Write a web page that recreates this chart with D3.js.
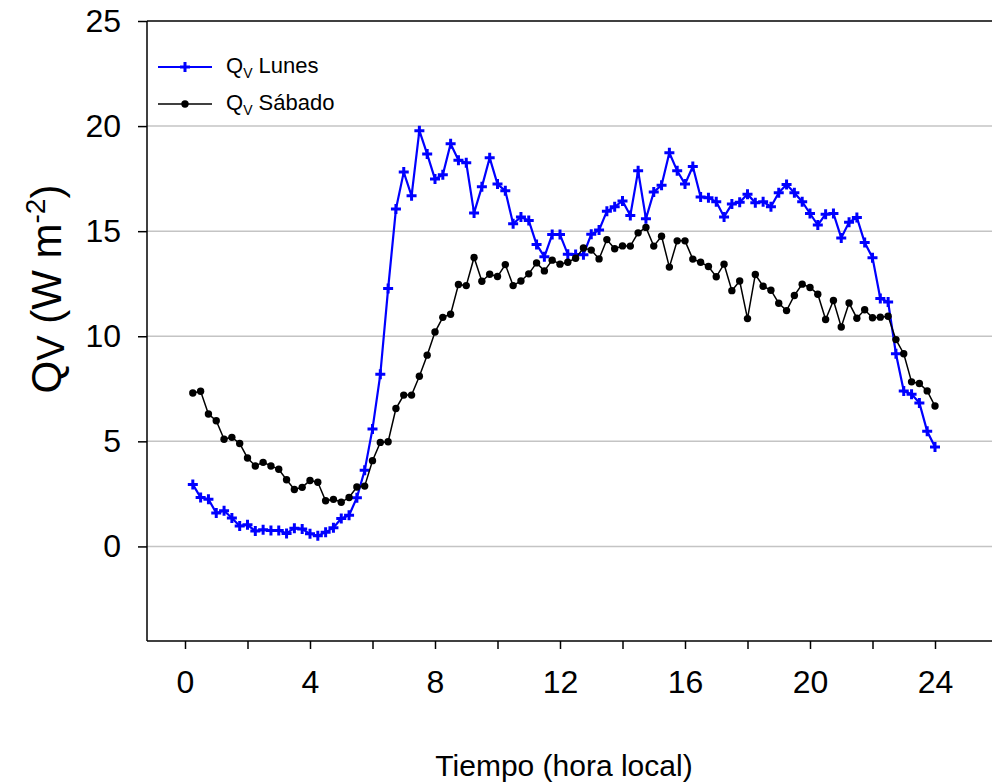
<!DOCTYPE html>
<html>
<head>
<meta charset="utf-8">
<script src="https://cdn.jsdelivr.net/npm/d3@7"></script>
<style>
  body { margin: 0; background: #fff; }
  svg { display: block; font-family: "Liberation Sans", Arial, sans-serif; }
</style>
</head>
<body>
<div id="chart"></div>
<script>
// sampling every 15 min (hora local)
const hours = d3.range(1, 97).map((i) => i / 4);

// Q_V Lunes
const lunes = [
  2.95, 2.33, 2.25, 1.59, 1.70, 1.35, 0.97, 1.03, 0.73, 0.79, 0.76, 0.76,
  0.62, 0.87, 0.83, 0.60, 0.51, 0.67, 0.89, 1.33, 1.48, 2.32, 3.62, 5.59,
  8.19, 12.27, 16.05, 17.81, 16.68, 19.78, 18.67, 17.48, 17.68, 19.16, 18.38, 18.25,
  15.87, 17.11, 18.49, 17.24, 16.92, 15.35, 15.68, 15.51, 14.37, 13.78, 14.84, 14.84,
  13.90, 13.89, 13.88, 14.85, 15.05, 15.95, 16.16, 16.44, 15.75, 17.87, 15.59, 16.86,
  17.19, 18.73, 17.87, 17.24, 18.08, 16.63, 16.59, 16.40, 15.68, 16.29, 16.38, 16.76,
  16.35, 16.40, 16.16, 16.83, 17.22, 16.83, 16.40, 15.84, 15.29, 15.81, 15.84, 14.68,
  15.42, 15.65, 14.46, 13.74, 11.80, 11.63, 9.17, 7.40, 7.24, 6.83, 5.48, 4.73
];

// Q_V Sábado
const sabado = [
  7.30, 7.38, 6.30, 5.98, 5.10, 5.19, 4.90, 4.21, 3.83, 4.00, 3.83, 3.67,
  3.17, 2.71, 2.81, 3.14, 3.05, 2.17, 2.24, 2.10, 2.33, 2.83, 2.87, 4.08,
  4.95, 4.98, 6.56, 7.20, 7.20, 8.10, 9.10, 10.20, 10.90, 11.05, 12.46, 12.41,
  13.75, 12.62, 12.95, 12.84, 13.41, 12.41, 12.63, 12.97, 13.49, 13.11, 13.62, 13.43,
  13.52, 13.71, 14.20, 14.10, 13.68, 14.60, 14.16, 14.30, 14.29, 14.92, 15.18, 14.29,
  14.76, 13.29, 14.54, 14.54, 13.67, 13.52, 13.32, 12.83, 13.43, 12.17, 12.63, 10.84,
  12.94, 12.38, 12.19, 11.57, 11.22, 11.94, 12.48, 12.32, 12.00, 10.80, 11.70, 10.44,
  11.58, 10.86, 11.26, 10.88, 10.91, 10.95, 9.84, 9.17, 7.83, 7.75, 7.40, 6.68
];

const xTicks = d3.range(0, 25, 2);
const xLabels = [0, 4, 8, 12, 16, 20, 24];
const yTicks = [0, 5, 10, 15, 20, 25];
const yGrid = [0, 5, 10, 15, 20];

const W = 992, H = 782;
const mLeft = 147, mRight = 992, mTop = 21, mBottom = 641;

const svg = d3.select("#chart").append("svg")
  .attr("width", W)
  .attr("height", H);

const x = d3.scaleLinear().domain([0, 24]).range([185, 935]);
const y = d3.scaleLinear().domain([-4.5, 25]).range([mBottom, mTop]);

// grid lines
svg.append("g")
  .selectAll("line")
  .data(yGrid)
  .enter()
  .append("line")
  .attr("x1", mLeft)
  .attr("x2", mRight)
  .attr("y1", (d) => y(d))
  .attr("y2", (d) => y(d))
  .attr("stroke", "#c4c4c4")
  .attr("stroke-width", 1.5);

// top frame line
svg.append("line")
  .attr("x1", mLeft).attr("x2", mRight)
  .attr("y1", mTop).attr("y2", mTop)
  .attr("stroke", "#000").attr("stroke-width", 1.5);

// y axis
const yAxis = d3.axisLeft(y).tickValues(yTicks).tickSize(9).tickPadding(17)
  .tickFormat(d3.format("d"));
const gY = svg.append("g")
  .attr("transform", "translate(" + mLeft + ",0)")
  .call(yAxis);
gY.select(".domain").remove();
gY.append("line")
  .attr("x1", 0).attr("x2", 0)
  .attr("y1", mTop).attr("y2", mBottom)
  .attr("stroke", "#000").attr("stroke-width", 1.5);
gY.selectAll(".tick line").attr("stroke-width", 1.5);
gY.selectAll(".tick text")
  .attr("font-size", 32)
  .attr("font-family", "Liberation Sans, Arial, sans-serif")
  .attr("fill", "#000");

// x axis
const xAxis = d3.axisBottom(x).tickValues(xTicks).tickSize(8).tickPadding(21)
  .tickFormat((d) => (xLabels.includes(d) ? d : ""));
const gX = svg.append("g")
  .attr("transform", "translate(0," + mBottom + ")")
  .call(xAxis);
gX.select(".domain").remove();
gX.append("line")
  .attr("x1", mLeft).attr("x2", mRight)
  .attr("y1", 0).attr("y2", 0)
  .attr("stroke", "#000").attr("stroke-width", 1.5);
gX.selectAll(".tick line").attr("stroke-width", 1.5);
gX.selectAll(".tick text")
  .attr("font-size", 32)
  .attr("font-family", "Liberation Sans, Arial, sans-serif")
  .attr("fill", "#000");

// axis titles
svg.append("text")
  .attr("x", 564)
  .attr("y", 776)
  .attr("text-anchor", "middle")
  .attr("font-size", 30)
  .text("Tiempo (hora local)");

const yTitle = svg.append("text")
  .attr("transform", "translate(61,289) rotate(-90)")
  .attr("text-anchor", "middle")
  .attr("font-size", 42);
yTitle.append("tspan").text("Q");
yTitle.append("tspan").attr("font-size", 38).attr("dy", 3).text("V");
yTitle.append("tspan").attr("dy", -3).text(" (W m");
yTitle.append("tspan").attr("font-size", 28).attr("dy", -16).text("-2");
yTitle.append("tspan").attr("dy", 16).text(")");

// series
const lineGen = (vals) => d3.line()
  .x((d, i) => x(hours[i]))
  .y((d) => y(d))(vals);

const series = [
  { name: "Lunes", values: lunes, color: "#0000ff", width: 2.2, marker: "plus" },
  { name: "Sábado", values: sabado, color: "#000000", width: 1.5, marker: "dot" }
];

series.forEach((s) => {
  const g = svg.append("g");
  g.append("path")
    .attr("d", lineGen(s.values))
    .attr("fill", "none")
    .attr("stroke", s.color)
    .attr("stroke-width", s.width);
  if (s.marker === "plus") {
    g.selectAll(".m")
      .data(s.values)
      .enter()
      .append("path")
      .attr("class", "m")
      .attr("d", "M-5,0H5M0,-5V5")
      .attr("transform", (d, i) => "translate(" + x(hours[i]) + "," + y(d) + ")")
      .attr("stroke", s.color)
      .attr("stroke-width", 3);
  } else {
    g.selectAll(".m")
      .data(s.values)
      .enter()
      .append("circle")
      .attr("class", "m")
      .attr("cx", (d, i) => x(hours[i]))
      .attr("cy", (d) => y(d))
      .attr("r", 3.7)
      .attr("fill", s.color);
  }
});

// legend
const legend = svg.append("g");
series.forEach((s, i) => {
  const ly = 67 + i * 37;
  legend.append("line")
    .attr("x1", 158).attr("x2", 212)
    .attr("y1", ly).attr("y2", ly)
    .attr("stroke", s.color)
    .attr("stroke-width", s.width);
  if (s.marker === "plus") {
    legend.append("path")
      .attr("d", "M-5,0H5M0,-5V5")
      .attr("transform", "translate(185," + ly + ")")
      .attr("stroke", s.color)
      .attr("stroke-width", 3);
  } else {
    legend.append("circle")
      .attr("cx", 185).attr("cy", ly).attr("r", 3.7)
      .attr("fill", s.color);
  }
  const t = legend.append("text")
    .attr("x", 226)
    .attr("y", ly + 6)
    .attr("font-size", 22);
  t.append("tspan").text("Q");
  t.append("tspan").attr("font-size", 14).attr("dy", 5).text("V");
  t.append("tspan").attr("dy", -5).text(" " + s.name);
});
</script>
</body>
</html>
